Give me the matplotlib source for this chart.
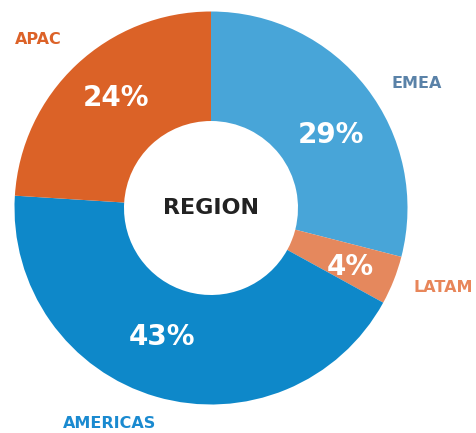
import matplotlib.pyplot as plt

regions = ['EMEA', 'LATAM', 'AMERICAS', 'APAC']
shares = [29, 4, 43, 24]
wedge_colors = ['#48a5d8', '#e5885d', '#0e88c9', '#db6227']
label_colors = ['#5a82a8', '#e8865a', '#1a8ad0', '#dc6228']

W, H = 476, 433
cx, cy = 211, H - 208
r_out, r_in = 196.5, 87

# text positions in pixel coords (x, y from top)
pct_pos = [(331, 135), (350, 267), (162, 337), (116, 98)]
name_pos = [(417, 83), (443, 287), (110, 423), (38, 40)]

fig = plt.figure(figsize=(W / 100, H / 100), dpi=100)
ax = fig.add_axes([0, 0, 1, 1])
ax.set_xlim(0, W)
ax.set_ylim(0, H)
ax.set_aspect('equal')
ax.axis('off')

ax.pie(shares, colors=wedge_colors, startangle=90, counterclock=False,
       radius=r_out, center=(cx, cy),
       wedgeprops=dict(width=r_out - r_in, linewidth=0))
ax.set_xlim(0, W)
ax.set_ylim(0, H)

for s, (x, y) in zip(shares, pct_pos):
    ax.text(x, H - y, f'{s}%', ha='center', va='center', color='white',
            fontsize=20, fontweight='bold', family='DejaVu Sans')

for name, col, (x, y) in zip(regions, label_colors, name_pos):
    ax.text(x, H - y, name, ha='center', va='center', color=col,
            fontsize=11.5, fontweight='bold', family='DejaVu Sans')

ax.text(cx, cy, 'REGION', ha='center', va='center', color='#222222',
        fontsize=16, fontweight='bold', family='DejaVu Sans')

fig.savefig('out.png', dpi=100)
